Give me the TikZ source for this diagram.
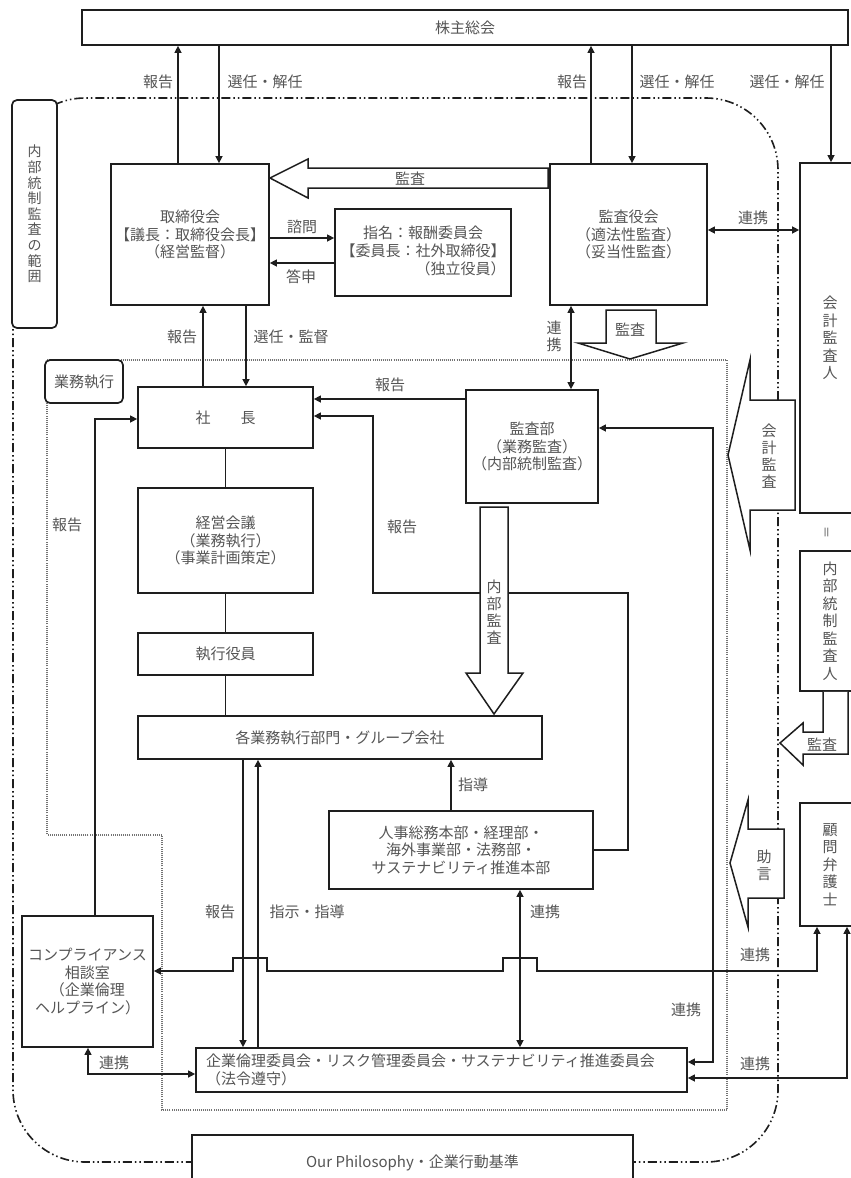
\documentclass[tikz,border=0pt]{standalone}
\usepackage{fontspec}
\setmainfont{Noto Sans CJK JP}
\usetikzlibrary{arrows.meta}
\definecolor{tg}{RGB}{85,85,85}
\definecolor{ln}{RGB}{30,30,30}
\begin{document}
\begin{tikzpicture}[x=1pt,y=-1pt,
  box/.style={draw=ln, line width=1.7pt, fill=white, inner sep=0pt, align=center, text=tg, font=\fontsize{15}{17.5}\selectfont},
  rbox/.style={box, rounded corners=5pt},
  lbl/.style={text=tg, font=\fontsize{15}{17}\selectfont, inner sep=0pt, align=center},
  vtx/.style={text=tg, font=\fontsize{15}{17}\selectfont, inner sep=0pt, align=center},
  con/.style={draw=ln, line width=1.3pt},
  arr/.style={con, -{Triangle[length=7pt,width=7pt]}},
  darr/.style={con, {Triangle[length=7pt,width=7pt]}-{Triangle[length=7pt,width=7pt]}},
  hollow/.style={draw=ln, line width=1.5pt, fill=white, line join=miter},
  ddot/.style={draw=ln, line width=1.6pt, dash pattern=on 9pt off 3pt on 1.5pt off 3pt on 1.5pt off 3pt},
  dotreg/.style={draw=black!55, line width=1.7pt, dash pattern=on 1pt off 1.1pt}
]
\useasboundingbox (0,0) rectangle (851,1178);
\clip (0,0) rectangle (851,1178);
\fill[white] (0,0) rectangle (851,1178);

% boundary of internal control audit
\draw[ddot, rounded corners=72pt] (13,98) rectangle (778,1162);
% business execution region
\draw[dotreg] (47,360) -- (727,360) -- (727,1110) -- (162,1110) -- (162,835) -- (47,835) -- cycle;

% lanes
\foreach \n/\v in {178/178,219/219,591/591,632/632,831/831,203/203,246/246,571/571,373/373,628/628,713/713,451/451,243/243,258/258,520/520,95/95,817/817,847/847,88/88}
  \coordinate (X\n) at (\v,0);
\foreach \n/\v in {238/238,263/263,230/230,399/399,416/416,419/419,593/593,428/428,1062/1062,971/971,1078/1078,1074/1074}
  \coordinate (Y\n) at (0,\v);

% boxes
\node[box, minimum width=766pt, minimum height=35pt] (kabu) at (465,27.5) {株主総会};
\node[rbox, minimum width=45pt, minimum height=228pt, font=\fontsize{14}{15.6}\selectfont] (hani) at (34.5,214) {内\\部\\統\\制\\監\\査\\の\\範\\囲};
\node[box, minimum width=158pt, minimum height=141pt] (tori) at (190,234.5) {取締役会\\【議長：取締役会長】\\（経営監督）};
\node[box, minimum width=176pt, minimum height=87pt] (shimei) at (423,252.5) {\begin{tabular}{@{}c@{}}指名：報酬委員会\\【委員長：社外取締役】\\\hfill（独立役員）\end{tabular}};
\node[box, minimum width=157pt, minimum height=141pt] (kansayaku) at (628.5,234.5) {監査役会\\（適法性監査）\\（妥当性監査）};
\node[box, minimum width=60pt, minimum height=350pt] (kaikei) at (830,338) {会\\計\\監\\査\\人};
\node[box, minimum width=60pt, minimum height=140pt] (naibunin) at (830,621) {内\\部\\統\\制\\監\\査\\人};
\node[box, minimum width=60pt, minimum height=123pt] (komon) at (830,864.5) {顧\\問\\弁\\護\\士};
\node[rbox, minimum width=78pt, minimum height=43pt] (gyomu) at (84,381.5) {業務執行};
\node[box, minimum width=175pt, minimum height=61pt] (shacho) at (225.5,417.5) {社　　長};
\node[box, minimum width=175pt, minimum height=105pt] (keiei) at (225.5,540.5) {経営会議\\（業務執行）\\（事業計画策定）};
\node[box, minimum width=175pt, minimum height=42pt] (shikko) at (225.5,654) {執行役員};
\node[box, minimum width=404pt, minimum height=43pt] (kakugyo) at (340,737.5) {各業務執行部門・グループ会社};
\node[box, minimum width=132pt, minimum height=113pt] (kansabu) at (532,446.5) {監査部\\（業務監査）\\（内部統制監査）};
\node[box, minimum width=264pt, minimum height=78pt] (jinji) at (461,850) {人事総務本部・経理部・\\海外事業部・法務部・\\サステナビリティ推進本部};
\node[box, minimum width=131pt, minimum height=131pt] (comp) at (87.5,981.5) {コンプライアンス\\相談室\\（企業倫理\\ヘルプライン）};
\node[box, minimum width=491pt, minimum height=44pt, align=left, text width=471pt, inner xsep=10pt] (kigyo) at (441.5,1070) {企業倫理委員会・リスク管理委員会・サステナビリティ推進委員会\\（法令遵守）};
\node[box, minimum width=441pt, minimum height=55pt] (philo) at (412.5,1162.5) {Our Philosophy・企業行動基準};

% connectors
\draw[arr] (tori.north -| X178) -- (kabu.south -| X178);
\draw[arr] (kabu.south -| X219) -- (tori.north -| X219);
\draw[arr] (kansayaku.north -| X591) -- (kabu.south -| X591);
\draw[arr] (kabu.south -| X632) -- (kansayaku.north -| X632);
\draw[arr] (kabu.south -| X831) -- (kaikei.north -| X831);
\draw[arr] (tori.east |- Y238) -- (shimei.west |- Y238);
\draw[arr] (shimei.west |- Y263) -- (tori.east |- Y263);
\draw[darr] (kansayaku.east |- Y230) -- (kaikei.west |- Y230);
\draw[arr] (shacho.north -| X203) -- (tori.south -| X203);
\draw[arr] (tori.south -| X246) -- (shacho.north -| X246);
\draw[darr] (kansayaku.south -| X571) -- (kansabu.north -| X571);
\draw[arr] (kansabu.west |- Y399) -- (shacho.east |- Y399);
\draw[con] (shacho.south) -- (keiei.north);
\draw[con] (keiei.south) -- (shikko.north);
\draw[con] (shikko.south) -- (kakugyo.north -| shikko.south);
\draw[arr] (jinji.east) -| (X628 |- Y593) -| (X373 |- Y416) -- (shacho.east |- Y416);
\draw[darr] (kansabu.east |- Y428) -| (X713 |- Y1062) -- (kigyo.east |- Y1062);
\draw[arr] (jinji.north -| X451) -- (kakugyo.south -| X451);
\draw[arr] (kakugyo.south -| X243) -- (kigyo.north -| X243);
\draw[arr] (kigyo.north -| X258) -- (kakugyo.south -| X258);
\draw[darr] (jinji.south -| X520) -- (kigyo.north -| X520);
\draw[arr] (comp.north -| X95) |- (shacho.west |- Y419);
\draw[darr] (comp.east |- Y971) -- (233,971) -- (233,958) -- (267,958) -- (267,971) -- (503,971) -- (503,958) -- (537,958) -- (537,971) -- (X817 |- Y971) -- (komon.south -| X817);
\draw[darr] (komon.south -| X847) |- (kigyo.east |- Y1078);
\draw[darr] (comp.south -| X88) |- (kigyo.west |- Y1074);

% hollow arrows
\draw[hollow] (548,168) -- (308,168) -- (308,159) -- (270,178) -- (308,198) -- (308,188) -- (548,188) -- cycle;
\draw[hollow] (606,310) -- (656,310) -- (656,343) -- (683,343) -- (630,359) -- (578,343) -- (606,343) -- cycle;
\draw[hollow] (480,507) -- (508,507) -- (508,673) -- (523,673) -- (494,714) -- (466,673) -- (480,673) -- cycle;
\draw[hollow] (795,400) -- (750,400) -- (750,360) -- (728,455) -- (750,550) -- (750,510) -- (795,510) -- cycle;
\draw[hollow] (784,829) -- (748,829) -- (748,800) -- (730,863) -- (748,927) -- (748,898) -- (784,898) -- cycle;
\draw[hollow] (823,691.8) -- (823,732) -- (803,732) -- (803,723) -- (780,743) -- (803,765) -- (803,754) -- (848,754) -- (848,691.8);

% labels
\node[lbl] (t1) at (158,82) {報告};
\node[lbl] (t2) at (265,82) {選任・解任};
\node[lbl] (t3) at (572,82) {報告};
\node[lbl] (t4) at (677,82) {選任・解任};
\node[lbl] (t5) at (787,82) {選任・解任};
\node[lbl] (t6) at (410,179) {監査};
\node[lbl] (t7) at (302,227) {諮問};
\node[lbl] (t8) at (301,277) {答申};
\node[lbl] (t9) at (753,218) {連携};
\node[lbl] (t10) at (182,337) {報告};
\node[lbl] (t11) at (291,337) {選任・監督};
\node[vtx] (t12) at (554,336) {連\\携};
\node[lbl] (t13) at (630,330) {監査};
\node[lbl] (t14) at (390,385) {報告};
\node[lbl] (t15) at (67,525) {報告};
\node[lbl] (t16) at (402,527) {報告};
\node[vtx] (t17) at (494,612) {内\\部\\監\\査};
\node[vtx] (t18) at (769,456) {会\\計\\監\\査};
\node[lbl, rotate=90, font=\fontsize{12}{12}\selectfont] (t19) at (828,532) {＝};
\node[lbl] (t20) at (822,745) {監査};
\node[lbl] (t21) at (473,785) {指導};
\node[vtx] (t22) at (764,865) {助\\言};
\node[lbl] (t23) at (220,912) {報告};
\node[lbl] (t24) at (307,912) {指示・指導};
\node[lbl] (t25) at (545,912) {連携};
\node[lbl] (t26) at (755,955) {連携};
\node[lbl] (t27) at (686,1010) {連携};
\node[lbl] (t28) at (755,1064) {連携};
\node[lbl] (t29) at (114,1063) {連携};
\end{tikzpicture}
\end{document}
